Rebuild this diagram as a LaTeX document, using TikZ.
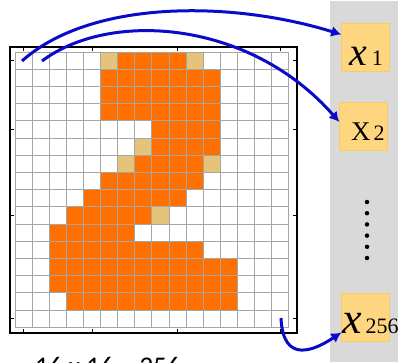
\documentclass[tikz,border=0pt]{standalone}
\usepackage{fontspec}
\setmainfont{Liberation Serif}
\newfontfamily\carlito{Carlito}
\usetikzlibrary{arrows.meta}
\definecolor{px}{RGB}{255,112,0}
\definecolor{pxl}{RGB}{228,196,122}
\definecolor{panel}{RGB}{217,217,217}
\definecolor{boxfill}{RGB}{255,214,128}
\definecolor{boxline}{RGB}{250,200,110}
\definecolor{arrblue}{RGB}{10,10,200}
\tikzstyle{vbox}=[draw=boxline, fill=boxfill, minimum width=48pt, minimum height=48pt, inner sep=0]
\tikzstyle{lab}=[anchor=base west, inner sep=0]
\tikzstyle{arr}=[draw=arrblue, line width=3pt, -{Latex[length=10pt,width=11pt]}]
\tikzstyle{dt}=[shape=circle, minimum size=4.5pt, inner sep=0, fill=black]

\begin{document}
\begin{tikzpicture}[x=1pt,y=-1pt]
\useasboundingbox (0,0) rectangle (406,362);
\fill[panel] (330,1) rectangle (398,362);
% the 16x16 picture of the digit
\begin{scope}[shift={(15,52)},x=17.1pt,y=-17.2pt]
\foreach \r/\a/\b in {0/6/9,1/5/11,2/5/11,3/5/11,4/8/11,5/8/11,6/7/10,7/5/10,8/4/9,9/3/7,10/2/6,11/2/10,12/2/12,13/2/12,14/3/12}{\foreach \c in {\a,...,\b}{\fill[px] (\c,\r) rectangle ++(1,1);}}
\foreach \c/\r in {5/0,10/0,7/5,6/6,11/6,8/9}{\fill[pxl] (\c,\r) rectangle ++(1,1);}
\foreach \i in {0,...,16}{\draw[gray!70, line width=0.8pt] (\i,0)--(\i,16) (0,\i)--(16,\i);}
\end{scope}
\draw[line width=1.1pt] (10,47) rectangle (297,333);
\foreach \t in {23.5,92,177.5,280}{\draw[line width=1pt] (\t,47)--++(0,4) (\t,333)--++(0,-4);}
\foreach \t in {60.6,129.4,215.4,318.6}{\draw[line width=1pt] (10,\t)--++(4,0) (297,\t)--++(-4,0);}
% inputs
\node[vbox] (x1) at (365.5,47.5) {};
\node[vbox] (x2) at (363.5,126) {};
\node[vbox] (x256) at (365.5,317.5) {};
\node[lab] (l1) at (349,65) {\fontsize{40}{40}\selectfont\itshape x\hspace{5pt}\fontsize{22}{22}\selectfont\upshape 1};
\node[lab] (l2) at (351,140) {\fontsize{27}{27}\selectfont X\hspace{3pt}\fontsize{22}{22}\selectfont 2};
\node[lab] (l256) at (342,333) {\fontsize{44}{44}\selectfont\itshape x\hspace{4pt}\fontsize{22}{22}\selectfont\upshape 256};
\foreach \i in {0,...,5}{\node[dt] (d\i) at (367,202+11.2*\i) {};}
\node[anchor=base west, inner sep=0, font={\fontsize{27}{27}\selectfont\carlito}] (cap) at (35,375) {16 x 16 = 256};
% arrows
\coordinate (s1) at (22,61);
\coordinate (s2) at (42,61);
\coordinate (s3) at (281,318);
\draw[arr] (s1) .. controls (90,0) and (230,0) .. ([yshift=13pt]x1.west);
\draw[arr] (s2) .. controls (110,10) and (250,20) .. ([yshift=4pt]x2.west);
\draw[arr] (s3) .. controls (283,365) and (315,350) .. ([yshift=-15pt]x256.west);
\end{tikzpicture}
\end{document}
